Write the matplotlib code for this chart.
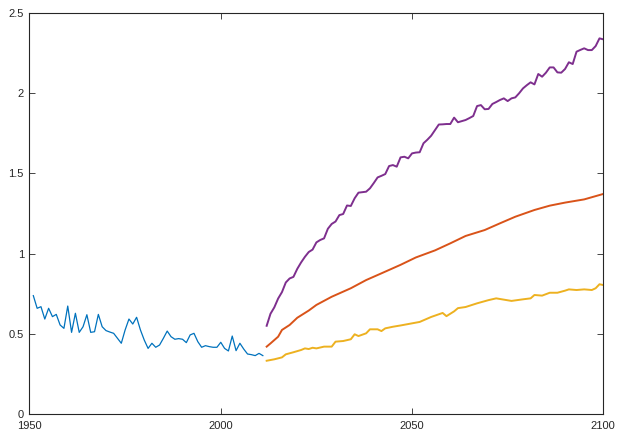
import matplotlib
matplotlib.use("Agg")
import matplotlib.pyplot as plt
from matplotlib.ticker import FormatStrFormatter

plt.rcParams['font.family'] = ['Liberation Sans', 'DejaVu Sans']

# observed series, 1951-2011
obs_years = list(range(1951, 2012))
obs_vals = [0.738, 0.659, 0.669, 0.592, 0.659, 0.607, 0.621, 0.555, 0.534, 0.673,
            0.509, 0.628, 0.509, 0.544, 0.619, 0.509, 0.513, 0.621, 0.544, 0.520,
            0.511, 0.503, 0.472, 0.441, 0.524, 0.592, 0.561, 0.603, 0.524, 0.461,
            0.409, 0.441, 0.416, 0.430, 0.472, 0.517, 0.482, 0.466, 0.470, 0.466,
            0.445, 0.493, 0.503, 0.451, 0.416, 0.426, 0.420, 0.416, 0.416, 0.447,
            0.409, 0.393, 0.486, 0.395, 0.441, 0.405, 0.374, 0.370, 0.364, 0.378,
            0.364]

# high scenario (purple)
high_years = list(range(2012, 2101))
high_vals = [0.55, 0.625, 0.665, 0.72, 0.76, 0.82, 0.845, 0.855, 0.905, 0.945,
             0.98, 1.01, 1.025, 1.07, 1.085, 1.095, 1.155, 1.185, 1.2, 1.24,
             1.247, 1.30, 1.297, 1.345, 1.38, 1.383, 1.386, 1.407, 1.44, 1.475,
             1.485, 1.496, 1.546, 1.552, 1.542, 1.60, 1.604, 1.594, 1.625, 1.63,
             1.632, 1.688, 1.71, 1.735, 1.77, 1.805, 1.806, 1.808, 1.808, 1.848,
             1.819, 1.826, 1.833, 1.845, 1.858, 1.92, 1.926, 1.90, 1.902, 1.933,
             1.945, 1.958, 1.968, 1.951, 1.968, 1.974, 2.00, 2.03, 2.05, 2.068,
             2.055, 2.12, 2.103, 2.128, 2.161, 2.161, 2.13, 2.128, 2.151, 2.193,
             2.182, 2.259, 2.27, 2.28, 2.269, 2.269, 2.294, 2.342, 2.336]

# middle scenario (orange)
mid_years = [2012, 2013, 2015, 2016, 2018, 2020, 2023, 2025, 2029, 2034, 2038,
             2042, 2047, 2051, 2056, 2060, 2064, 2069, 2073, 2077, 2082, 2086,
             2090, 2095, 2100]
mid_vals = [0.42, 0.44, 0.482, 0.524, 0.555, 0.60, 0.645, 0.68, 0.731, 0.784, 0.835,
            0.877, 0.93, 0.976, 1.02, 1.064, 1.11, 1.147, 1.189, 1.23, 1.272, 1.299,
            1.318, 1.338, 1.372]

# low scenario (yellow)
low_years = [2012, 2014, 2016, 2017, 2019, 2021, 2022, 2023, 2024, 2025, 2027,
             2029, 2030, 2032, 2034, 2035, 2036, 2038, 2039, 2041, 2042, 2043,
             2045, 2047, 2052, 2055, 2058, 2059, 2061, 2062, 2064, 2067, 2070,
             2072, 2076, 2079, 2081, 2082, 2084, 2086, 2088, 2090, 2091, 2093,
             2095, 2097, 2098, 2099, 2100]
low_vals = [0.332, 0.341, 0.353, 0.372, 0.385, 0.399, 0.409, 0.405, 0.413, 0.409,
            0.420, 0.420, 0.451, 0.455, 0.466, 0.497, 0.486, 0.503, 0.528, 0.528,
            0.517, 0.534, 0.544, 0.552, 0.574, 0.605, 0.63, 0.61, 0.64, 0.66,
            0.667, 0.69, 0.71, 0.721, 0.705, 0.715, 0.721, 0.742, 0.738, 0.756,
            0.756, 0.769, 0.777, 0.773, 0.777, 0.773, 0.784, 0.809, 0.804]

fig = plt.figure(figsize=(6.17, 4.33), dpi=100)
ax = fig.add_axes([0.0478, 0.0439, 0.930, 0.926])

ax.plot(obs_years, obs_vals, color='#0072BD', lw=0.9)
ax.plot(high_years, high_vals, color='#7E2F8E', lw=1.4)
ax.plot(mid_years, mid_vals, color='#D95319', lw=1.4)
ax.plot(low_years, low_vals, color='#EDB120', lw=1.4)

ax.set_xlim(1950, 2100)
ax.set_ylim(0, 2.5)
ax.set_xticks([1950, 2000, 2050, 2100])
ax.set_yticks([0, 0.5, 1, 1.5, 2, 2.5])
ax.yaxis.set_major_formatter(FormatStrFormatter('%g'))
ax.tick_params(direction='in', length=4, width=0.6, colors='#262626',
               labelsize=8, top=True, right=True)
ax.tick_params(axis='x', pad=5)
ax.tick_params(axis='y', pad=4)
for s in ax.spines.values():
    s.set_color('#262626')
    s.set_linewidth(0.8)

plt.savefig('out.png', dpi=100)
